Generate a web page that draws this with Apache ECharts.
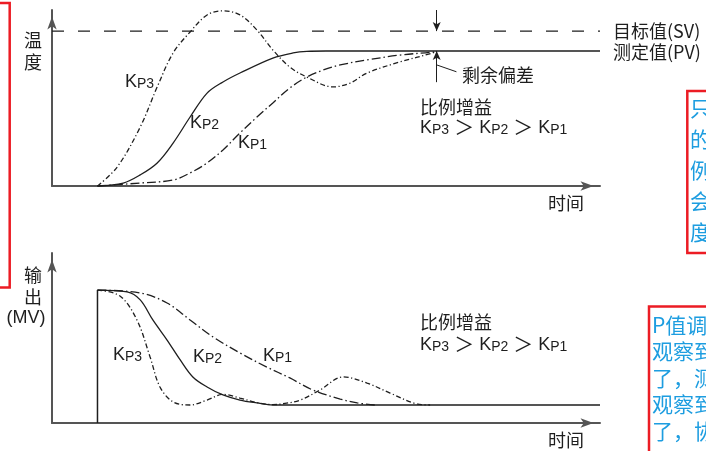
<!DOCTYPE html>
<html>
<head>
<meta charset="utf-8">
<script src="https://cdn.jsdelivr.net/npm/echarts@6/dist/echarts.min.js"></script>
<style>
  html, body { margin: 0; padding: 0; background: #fff; }
  #main { width: 706px; height: 451px; }
</style>
</head>
<body>
<div id="main"></div>
<script>
// 上: 温度响应 (PV)，下: 输出 (MV)
var SV = 88;        // 目标值
var PV = 76.7;      // 测定值 (稳定后)
var T0 = 8.3;       // 阶跃开始时刻
var MV0 = 78.2;     // 输出初值
var MVEND = 10.6;   // 输出稳定值
var RES_T = 70.2;   // 剩余偏差标注位置

// 温度曲线
var tTempKP3 = [T0, 11.9, 16.1, 19.2, 22.1, 25.2, 28.3, 31.2, 34.3, 37.4, 40.3, 43.4, 46.5, 51.3, 54.4, 57.5, 63.5, 69.5, RES_T];
var vTempKP3 = [0, 10.8, 33.5, 56.3, 75.6, 87.5, 97.2, 99.5, 97.2, 88.6, 77.3, 67.6, 61.9, 56.3, 58.5, 64.2, 70.5, 75.6, PV];
var tTempKP2 = [T0, 13.0, 16.1, 19.2, 22.1, 25.2, 28.3, 31.2, 34.3, 40.3, 44.0, 46.5, 50, 100];
var vTempKP2 = [0, 1.7, 6.3, 13.1, 24.4, 39.2, 52.8, 59.1, 64.2, 72.7, 75.6, 76.5, PV, PV];
var tTempKP1 = [T0, 16.1, 22.1, 25.2, 28.3, 31.2, 34.3, 37.4, 40.3, 43.4, 46.5, 49.5, 52.6, 57.5, 63.5, 69.5, RES_T];
var vTempKP1 = [0, 1.7, 3.4, 7.4, 13.1, 20.5, 30.1, 39.2, 47.2, 55.7, 61.9, 65.9, 68.8, 71.6, 74.4, 76.1, PV];

// 输出曲线
var tOutKP3 = [T0, 12.4, 15.5, 17.9, 19.7, 22.1, 25.2, 28.3, 31.2, 34.3, 37.4, 40.3, 42.5, 45.3, 48.9, 53.1, 57.5, 61.7, 66.6, 69];
var vOutKP3 = [MV0, 74.7, 60.6, 38.8, 21.2, 12.4, 10.6, 13.5, 16.8, 14.7, 12, 10.8, 11.5, 13.5, 19.4, 27.1, 23.5, 17.6, 11.2, MVEND];
var tOutKP2 = [T0, 13.7, 16.1, 18.4, 21.0, 23.4, 25.7, 28.3, 31.2, 34.3, 37.4, 40.3, 100];
var vOutKP2 = [MV0, 77.1, 72.4, 60.6, 48.8, 37.1, 27.1, 21.2, 16.5, 13.5, 11.8, MVEND, MVEND];
var tOutKP1 = [T0, 16.1, 21.0, 25.2, 29.4, 34.3, 39.2, 43.4, 47.6, 52.6, 55.7, 58.9];
var vOutKP1 = [MV0, 76.5, 70.6, 60.6, 50.6, 41.2, 32.9, 26.5, 19.4, 14.1, 11.8, MVEND];

function zip(ts, vs) {
  return ts.map(function (t, i) { return [t, vs[i]]; });
}

var INK = '#1e1e1e';
var AXIS = '#555';
var CJK = '"Noto Sans CJK SC", sans-serif';
var LAT = '"Liberation Sans", Arial, sans-serif';
var BLUE = '#1d9de0';
var RED = '#ec1c24';

var DASH_KP3 = [5, 2.5, 1.2, 2.5];
var DASH_KP1 = [9, 3, 1.5, 3];

function axisDef(idx) {
  return {
    type: 'value', gridIndex: idx, min: 0, max: 100,
    axisLine: { show: true, symbol: ['none', 'arrow'], symbolSize: [7, 13], symbolOffset: [0, -6.5],
      lineStyle: { color: AXIS, width: 2 } },
    axisTick: { show: false }, axisLabel: { show: false }, splitLine: { show: false }
  };
}

function curve(name, idx, data, dash) {
  return {
    name: name, type: 'line', xAxisIndex: idx, yAxisIndex: idx,
    data: data, smooth: 0.35, symbol: 'none', clip: false, animation: false,
    lineStyle: { color: INK, width: 1.3, type: dash || 'solid' }
  };
}

function kp(n) { return '{k|K}{s|P' + n + '}'; }
var GT = '{k| }{g|＞}{k| }';
var kpRich = {
  k: { fontFamily: LAT, fontSize: 18, fill: INK, lineHeight: 18, verticalAlign: 'bottom' },
  s: { fontFamily: LAT, fontSize: 14, fill: INK, lineHeight: 14, verticalAlign: 'bottom' },
  g: { fontFamily: CJK, fontSize: 20, fill: INK, lineHeight: 19, verticalAlign: 'bottom' }
};
function kpText(x, y, str) {
  return { type: 'text', x: x, y: y, silent: true,
    style: { text: str, rich: kpRich, textVerticalAlign: 'middle' } };
}
function txt(x, y, str, opt) {
  opt = opt || {};
  return { type: 'text', x: x, y: y, silent: true,
    style: { text: str, font: (opt.size || 18) + 'px ' + (opt.family || CJK), fill: opt.color || INK,
      textAlign: opt.align || 'left', textVerticalAlign: 'middle' } };
}

var chart = echarts.init(document.getElementById('main'));

var blueLines1 = ['只', '的', '例', '会', '度'];
var blueLines2 = ['P值调', '观察到', '了，测', '观察到', '了，协'];

var graphics = [
  // 红框 (截图残留)
  { type: 'rect', shape: { x: -10, y: 3, width: 19.7, height: 284.5 }, style: { fill: 'none', stroke: RED, lineWidth: 2.5 } },
  { type: 'rect', shape: { x: 687.3, y: 91, width: 40, height: 162 }, style: { fill: 'none', stroke: RED, lineWidth: 2.5 } },
  { type: 'rect', shape: { x: 649, y: 306.5, width: 80, height: 200 }, style: { fill: 'none', stroke: RED, lineWidth: 2.5 } },
  // 轴标题
  txt(33, 40, '温', { align: 'center' }),
  txt(33, 62, '度', { align: 'center' }),
  txt(33, 275, '输', { align: 'center' }),
  txt(33, 297, '出', { align: 'center' }),
  txt(26, 318, '(MV)', { align: 'center', family: LAT }),
  txt(548, 203, '时间'),
  txt(548, 440, '时间'),
  // 目标值 / 测定值
  txt(613, 31, '目标值(SV)'),
  txt(613, 52, '测定值(PV)'),
  txt(462, 75, '剩余偏差'),
  // 增益说明
  txt(420, 107, '比例增益'),
  kpText(420, 128, kp(3) + GT + kp(2) + GT + kp(1)),
  txt(420, 322, '比例增益'),
  kpText(420, 345, kp(3) + GT + kp(2) + GT + kp(1)),
  // 曲线标签
  kpText(125, 82, kp(3)),
  kpText(190, 123, kp(2)),
  kpText(238, 143, kp(1)),
  kpText(113, 355, kp(3)),
  kpText(193, 357, kp(2)),
  kpText(263, 356, kp(1))
];
blueLines1.forEach(function (s, i) {
  graphics.push(txt(690, 108 + i * 31, s, { size: 21, color: BLUE }));
});
blueLines2.forEach(function (s, i) {
  graphics.push(txt(652, 325 + i * 26.5, s, { size: 21, color: BLUE }));
});

var option = {
  backgroundColor: '#fff',
  animation: false,
  grid: [
    { left: 52, right: 106, top: 10, bottom: 265 },
    { left: 52, right: 106, top: 253, bottom: 28 }
  ],
  xAxis: [axisDef(0), axisDef(1)],
  yAxis: [axisDef(0), axisDef(1)],
  series: [
    {
      name: 'SV', type: 'line', xAxisIndex: 0, yAxisIndex: 0, symbol: 'none', animation: false,
      data: [[0, SV], [100, SV]],
      lineStyle: { color: INK, width: 1.2, type: [12, 14] },
      markLine: {
        silent: true, animation: false, symbol: ['none', 'arrow'], symbolSize: [6, 9],
        label: { show: false }, emphasis: { disabled: true },
        lineStyle: { color: INK, width: 1, type: 'solid' },
        data: [
          [{ coord: [RES_T, 100] }, { coord: [RES_T, SV] }],
          [{ coord: [RES_T, 59] }, { coord: [RES_T, PV] }],
          [{ coord: [RES_T, 68.8], symbol: 'none' }, { coord: [73.8, 64.9], symbol: 'none' }]
        ]
      }
    },
    curve('KP3', 0, zip(tTempKP3, vTempKP3), DASH_KP3),
    curve('KP2', 0, zip(tTempKP2, vTempKP2)),
    curve('KP1', 0, zip(tTempKP1, vTempKP1), DASH_KP1),
    {
      name: 'step', type: 'line', xAxisIndex: 1, yAxisIndex: 1, symbol: 'none', animation: false,
      data: [[T0, 0], [T0, MV0]], lineStyle: { color: INK, width: 1.5 }
    },
    curve('KP3 MV', 1, zip(tOutKP3, vOutKP3), DASH_KP3),
    curve('KP2 MV', 1, zip(tOutKP2, vOutKP2)),
    curve('KP1 MV', 1, zip(tOutKP1, vOutKP1), DASH_KP1)
  ],
  graphic: graphics
};

chart.setOption(option);
</script>
</body>
</html>
